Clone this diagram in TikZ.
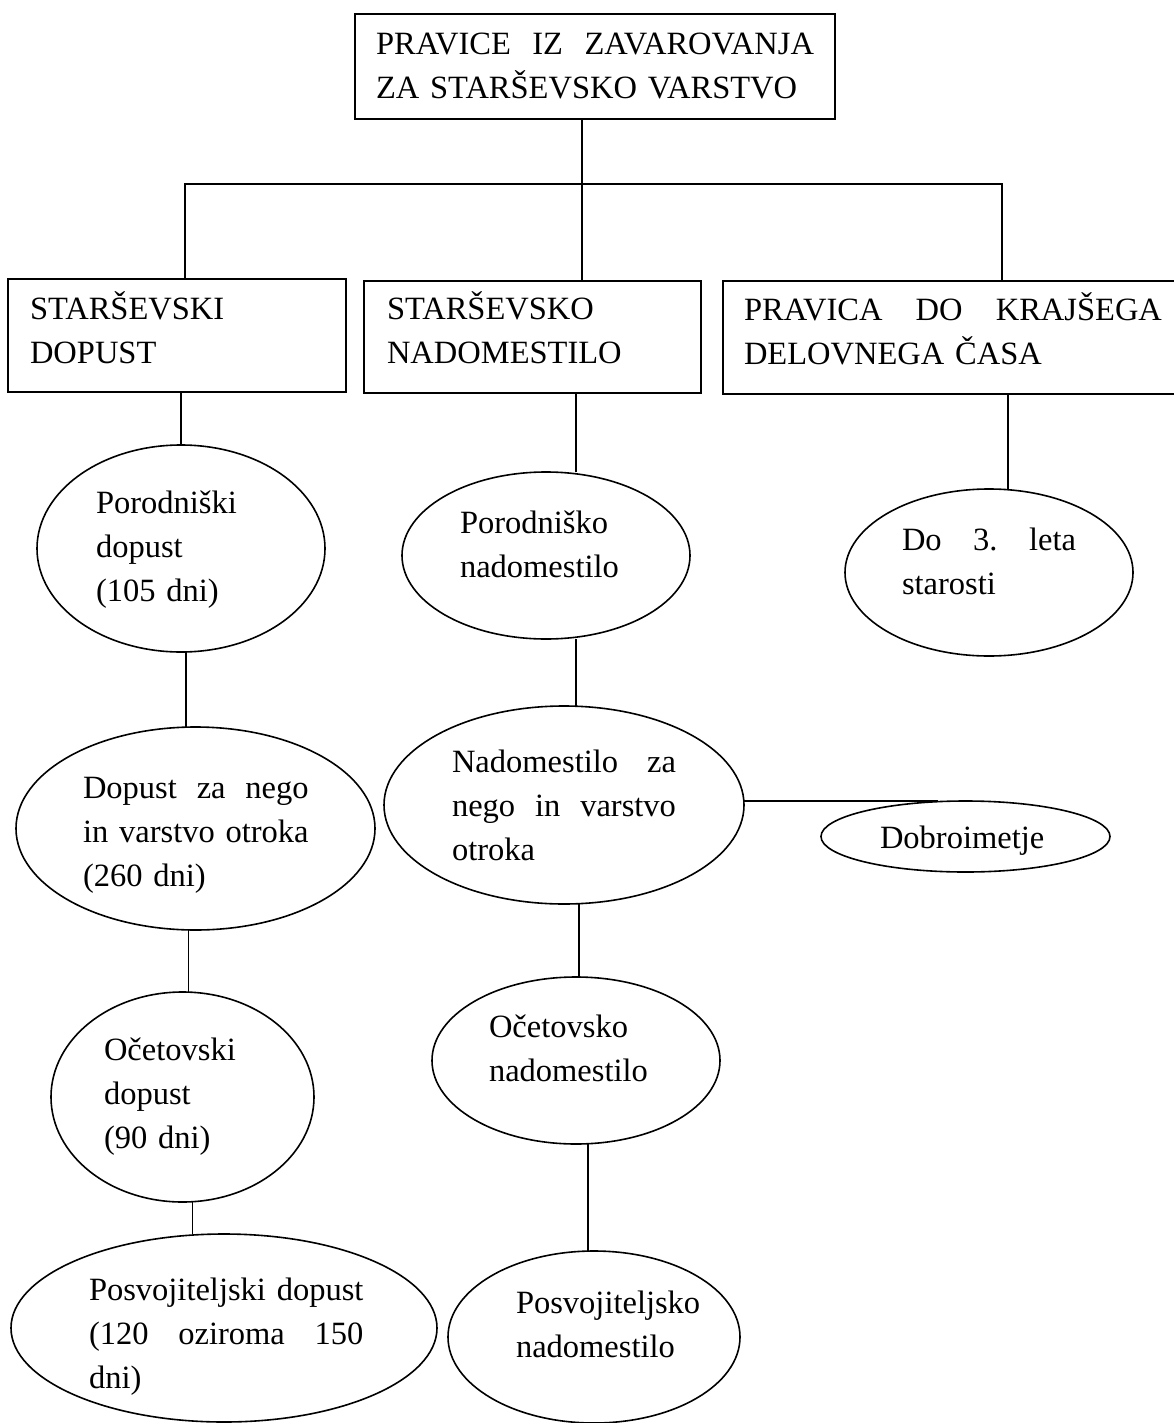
\documentclass[tikz,border=0pt]{standalone}
\usepackage{fontspec}
\setmainfont{Liberation Serif}
\usepackage{calc}
\usetikzlibrary{shapes.geometric}

\newcommand\dfont{\fontsize{16.25pt}{22pt}\selectfont\frenchspacing}

\tikzset{
  rbox/.style={draw, line width=1pt, inner sep=0pt, outer sep=0pt},
  oval/.style={draw, ellipse, line width=0.8pt, inner sep=0pt, outer sep=0pt},
  txt/.style={anchor=base west, inner sep=0pt, outer sep=0pt, align=left,
    font=\dfont, text width=#1},
  link/.style={line width=0.8pt},
}

\begin{document}
\begin{tikzpicture}[x=0.5pt, y=-0.5pt]
\useasboundingbox (0,0) rectangle (1173,1423);

% pravokotniki
\node[rbox, minimum width=240pt, minimum height=52.5pt] (top) at (595,66.5) {};
\node[rbox, minimum width=169pt, minimum height=56.5pt] (sd) at (177,335.5) {};
\node[rbox, minimum width=168.5pt, minimum height=56pt] (sn) at (532.5,337) {};
\node[rbox, minimum width=230pt, minimum height=56.5pt] (pk) at (953,337.5) {};

% elipse
\node[oval, minimum width=144pt, minimum height=103.5pt] (pd) at (181,548.5) {};
\node[oval, minimum width=179.5pt, minimum height=101.5pt] (dn) at (195.5,828.5) {};
\node[oval, minimum width=131.5pt, minimum height=105pt] (od) at (182.5,1097) {};
\node[oval, minimum width=213pt, minimum height=94pt] (pvd) at (224,1328) {};
\node[oval, minimum width=144pt, minimum height=83.5pt] (pn) at (546,555.5) {};
\node[oval, minimum width=180pt, minimum height=99pt] (nn) at (564,805) {};
\node[oval, minimum width=144pt, minimum height=83.5pt] (on) at (576,1060.5) {};
\node[oval, minimum width=146pt, minimum height=86pt] (pvn) at (594,1337) {};
\node[oval, minimum width=144pt, minimum height=83.5pt] (d3) at (989,572.5) {};
\node[oval, minimum width=144.5pt, minimum height=35.5pt] (db) at (965.5,836.5) {};

% besedila
\node[txt=225pt] (topt) at (376,55) {\makebox[219pt]{PRAVICE\hfill IZ\hfill ZAVAROVANJA}\\ZA STARŠEVSKO VARSTVO};
\node[txt=110pt] (sdt) at (30,319) {STARŠEVSKI\\DOPUST};
\node[txt=125pt] (snt) at (387,319) {STARŠEVSKO\\NADOMESTILO};
\node[txt=215pt] (pkt) at (744,320) {\makebox[209pt]{PRAVICA\hfill DO\hfill KRAJŠEGA}\\DELOVNEGA ČASA};
\node[txt=80pt] (pdt) at (96,513) {Porodniški\\dopust\\(105 dni)};
\node[txt=120pt] (dnt) at (83,798) {\makebox[\widthof{in varstvo otroka}]{Dopust\hfill za\hfill nego}\\in varstvo otroka\\(260 dni)};
\node[txt=80pt] (odt) at (104,1060) {Očetovski\\dopust\\(90 dni)};
\node[txt=150pt] (pvdt) at (89,1300) {Posvojiteljski dopust\\\makebox[\widthof{Posvojiteljski dopust}]{(120\hfill oziroma\hfill 150}\\dni)};
\node[txt=85pt] (pnt) at (460,533) {Porodniško\\nadomestilo};
\node[txt=120pt] (nnt) at (452,772) {\makebox[112pt]{Nadomestilo\hfill za}\\\makebox[112pt]{nego\hfill in\hfill varstvo}\\otroka};
\node[txt=85pt] (ont) at (489,1037) {Očetovsko\\nadomestilo};
\node[txt=100pt] (pvnt) at (516,1313) {Posvojiteljsko\\nadomestilo};
\node[txt=95pt] (d3t) at (902,550) {\makebox[87pt]{Do\hfill 3.\hfill leta}\\starosti};
\node[txt=90pt] (dbt) at (880,848) {Dobroimetje};

% povezave
\coordinate (jl) at (185,184);
\coordinate (jm) at (582,184);
\coordinate (jr) at (1002,184);
\draw[link] (top.south -| jm) -- (jm);
\draw[link] (jl |- sd.north) -- (jl) -- (jr) -- (jr |- pk.north);
\draw[link] (jm) -- (jm |- sn.north);

\draw[link] (pd.north) -- (pd.north |- sd.south);
\coordinate (a1) at ([xshift=15pt]pn.north);
\draw[link] (a1) -- (a1 |- sn.south);
\coordinate (a2) at ([xshift=9.5pt]d3.north);
\draw[link] (a2) -- (a2 |- pk.south);

\coordinate (a3) at ([xshift=2.5pt]pd.south);
\draw[link] (a3) -- (a3 |- dn.north);
\coordinate (a4) at ([xshift=3pt]od.north);
\draw[link] (a4) -- (a4 |- dn.south);
\coordinate (a5) at ([xshift=5pt]od.south);
\draw[link] (a5) -- (a5 |- pvd.north);

\coordinate (a6) at ([xshift=6pt]nn.north);
\draw[link] (a6) -- (a6 |- pn.south);
\coordinate (a7) at ([xshift=1.5pt]on.north);
\draw[link] (a7) -- (a7 |- nn.south);
\coordinate (a8) at ([xshift=-3pt]pvn.north);
\draw[link] (a8) -- (a8 |- on.south);
\coordinate (a9) at ([xshift=-14pt]db.north);
\draw[link] (nn.east |- a9) -- (a9);
\end{tikzpicture}
\end{document}
